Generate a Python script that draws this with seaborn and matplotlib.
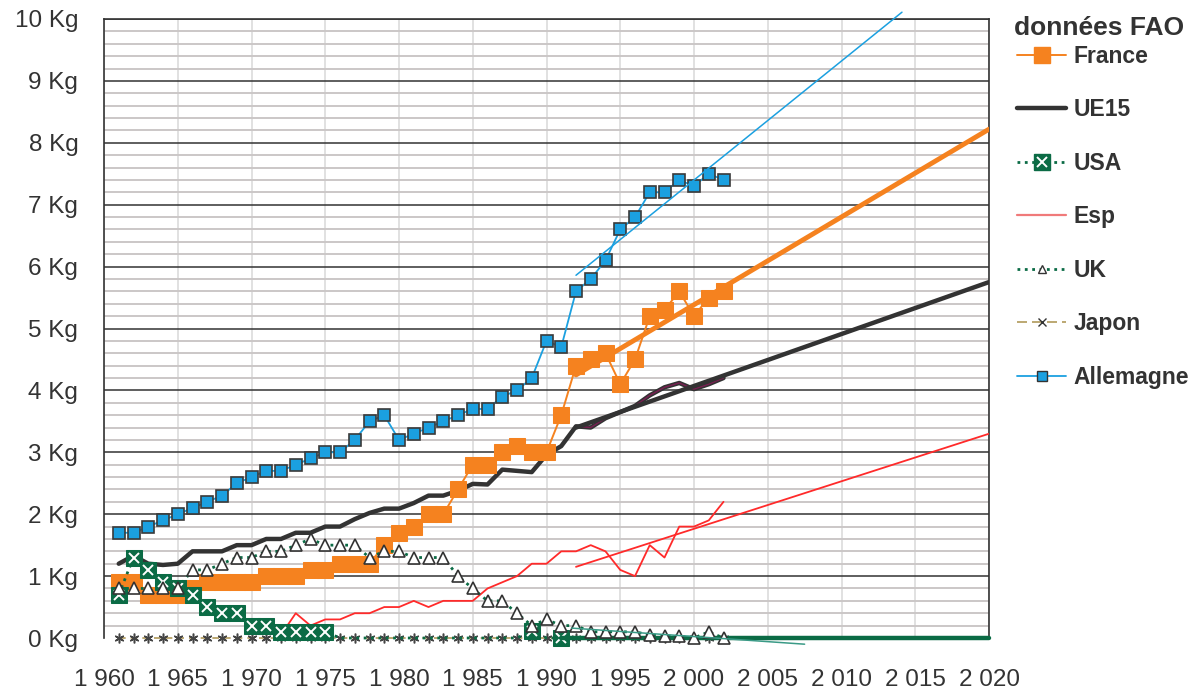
import numpy as np
import matplotlib.pyplot as plt
import seaborn as sns
from matplotlib.lines import Line2D
from matplotlib.ticker import MultipleLocator
from matplotlib.legend_handler import HandlerTuple

# données FAO, kg par habitant
years = np.arange(1961, 2003)
france = [0.9, 0.9, 0.7, 0.7, 0.7, 0.8, 0.9, 0.9, 0.9, 0.9,
          1.0, 1.0, 1.0, 1.1, 1.1, 1.2, 1.2, 1.2, 1.5, 1.7,
          1.8, 2.0, 2.0, 2.4, 2.8, 2.8, 3.0, 3.1, 3.0, 3.0,
          3.6, 4.4, 4.5, 4.6, 4.1, 4.5, 5.2, 5.3, 5.6, 5.2,
          5.5, 5.6]
ue15 = [1.2, 1.33, 1.2, 1.18, 1.2, 1.4, 1.4, 1.4, 1.5, 1.5,
        1.6, 1.6, 1.7, 1.7, 1.8, 1.8, 1.92, 2.02, 2.09, 2.09,
        2.18, 2.3, 2.3, 2.38, 2.49, 2.48, 2.72, 2.7, 2.68, 2.96,
        3.1, 3.42, 3.4, 3.55, 3.65, 3.75, 3.92, 4.05, 4.12, 4.02,
        4.1, 4.2]
usa = [0.7, 1.3, 1.1, 0.9, 0.8, 0.7, 0.5, 0.4, 0.4, 0.2,
       0.2, 0.1, 0.1, 0.1, 0.1, 0, 0, 0, 0, 0,
       0, 0, 0, 0, 0, 0, 0, 0, 0.12, 0,
       0]
uk = [0.8, 0.8, 0.8, 0.8, 0.8, 1.1, 1.1, 1.2, 1.3, 1.3,
      1.4, 1.4, 1.5, 1.6, 1.5, 1.5, 1.5, 1.3, 1.4, 1.4,
      1.3, 1.3, 1.3, 1.0, 0.8, 0.6, 0.6, 0.4, 0.2, 0.3,
      0.2, 0.2, 0.1, 0.1, 0.1, 0.1, 0.05, 0.03, 0.03, 0.0,
      0.1, 0.0]
japon = [0.0] * len(years)
allemagne = [1.7, 1.7, 1.8, 1.9, 2.0, 2.1, 2.2, 2.3, 2.5, 2.6,
             2.7, 2.7, 2.8, 2.9, 3.0, 3.0, 3.2, 3.5, 3.6, 3.2,
             3.3, 3.4, 3.5, 3.6, 3.7, 3.7, 3.9, 4.0, 4.2, 4.8,
             4.7, 5.6, 5.8, 6.1, 6.6, 6.8, 7.2, 7.2, 7.4, 7.3,
             7.5, 7.4]
esp_years = np.arange(1972, 2003)
esp = [0.05, 0.4, 0.2, 0.3, 0.3, 0.4, 0.4, 0.5, 0.5, 0.6,
       0.5, 0.6, 0.6, 0.6, 0.8, 0.9, 1.0, 1.2, 1.2, 1.4,
       1.4, 1.5, 1.4, 1.1, 1.0, 1.5, 1.3, 1.8, 1.8, 1.9,
       2.2]
usa_years = np.arange(1961, 1992)

# tendances linéaires (début, fin)
trend_france = ([1992, 2020], [4.25, 8.22])
trend_ue15 = ([1992, 2020], [3.4, 5.75])
trend_esp = ([1992, 2020], [1.15, 3.3])
trend_allemagne = ([1992, 2014.1], [5.86, 10.11])
trend_usa = ([1991, 2020], [0.0, 0.0])
trend_uk = ([1991.7, 2007.5], [0.16, -0.1])

c_france = "#f5821f"
c_ue15 = "#333333"
c_usa = "#0b6b45"
c_esp = "#ff2a2a"
c_uk_line = "#0b6b45"
c_japon = "#b09a5a"
c_all = "#1ba0e0"
txt = "#333333"

sns.set_style("white")
plt.rcParams["font.family"] = ["Liberation Sans", "DejaVu Sans"]

fig = plt.figure(figsize=(12.04, 6.9), dpi=100)
ax = fig.add_axes([104 / 1204, 52 / 690, 885 / 1204, 619 / 690])

# Japon
sns.lineplot(x=years, y=japon, ax=ax, color=c_japon, lw=1.2, dashes=False,
             linestyle=(0, (4, 3)), marker=(6, 2, 0), markersize=7,
             markeredgecolor="#444444", markeredgewidth=1.1, zorder=3,
             clip_on=False)

# Esp
sns.lineplot(x=esp_years, y=esp, ax=ax, color=c_esp, lw=1.3, zorder=3)
ax.plot(*trend_esp, color=c_esp, lw=1.3, zorder=3)

# UE15
sns.lineplot(x=years, y=ue15, ax=ax, color=c_ue15, lw=3.2, zorder=4)
ax.plot(years[31:], ue15[31:], color="#7a1f52", lw=1.0, zorder=4.1)
ax.plot(*trend_ue15, color=c_ue15, lw=3.2, zorder=4.2)

# France
sns.lineplot(x=years, y=france, ax=ax, color=c_france, lw=1.4, marker="s",
             markersize=11, markeredgecolor=c_france, zorder=5)
ax.plot(*trend_france, color=c_france, lw=3.5, zorder=5.2)

# USA
usa_marks = list(range(0, 15)) + [28, 30]
sns.lineplot(x=usa_years, y=usa, ax=ax, color=c_usa, lw=2.0, linestyle=":",
             marker="s", markersize=11, markeredgecolor=c_usa,
             markevery=usa_marks, zorder=6, clip_on=False)
ax.plot(usa_years[usa_marks], np.array(usa)[usa_marks], ls="none", marker="x",
        color="white", markersize=7, markeredgewidth=1.4, zorder=6.1,
        clip_on=False)
ax.plot(*trend_usa, color=c_usa, lw=3.2, zorder=6.2, clip_on=False)

# UK
sns.lineplot(x=years, y=uk, ax=ax, color=c_uk_line, lw=2.0, linestyle=":",
             marker="^", markersize=8, markerfacecolor="white",
             markeredgecolor="#333333", markeredgewidth=1.2, zorder=7,
             clip_on=False)
ax.plot(*trend_uk, color="#3a9a86", lw=1.1, zorder=7, clip_on=False)

# Allemagne
sns.lineplot(x=years, y=allemagne, ax=ax, color=c_all, lw=1.3, marker="s",
             markersize=8, markeredgecolor="#3a3a3a", markeredgewidth=1.2, zorder=8)
ax.plot(*trend_allemagne, color=c_all, lw=1.1, zorder=8, clip_on=False)

ax.set_xlim(1960, 2020)
ax.set_ylim(0, 10)
xt = list(range(1960, 2021, 5))
ax.set_xticks(xt)
ax.set_xticklabels([f"{y // 1000} {y % 1000:03d}" for y in xt])
ax.set_yticks(range(0, 11))
ax.set_yticklabels([f"{v} Kg" for v in range(0, 11)])
ax.yaxis.set_minor_locator(MultipleLocator(0.2))
ax.set_xlabel("")
ax.set_ylabel("")

ax.tick_params(axis="x", direction="inout", length=12, width=1.2, color="#555555",
               labelsize=17.5, labelcolor=txt, pad=16)
ax.tick_params(axis="y", which="major", direction="out", length=6.5, width=1.2,
               color="#333333", labelsize=17.5, labelcolor=txt, pad=12)
ax.tick_params(axis="y", which="minor", length=0)

ax.set_axisbelow(True)
ax.grid(which="major", axis="x", color="#dcdcdc", lw=1.2)
ax.grid(which="minor", axis="y", color="#cbc7c7", lw=1.4)
ax.grid(which="major", axis="y", color="#333333", lw=1.1)
ax.get_ygridlines()[0].set_visible(False)

for side in ["left", "top", "right"]:
    ax.spines[side].set_visible(True)
    ax.spines[side].set_color("#333333")
    ax.spines[side].set_linewidth(1.2)
ax.spines["bottom"].set_visible(False)

# légende
h_france = Line2D([], [], color=c_france, lw=1.4, marker="s", markersize=11)
h_ue15 = Line2D([], [], color=c_ue15, lw=3.2)
h_usa = (Line2D([], [], color=c_usa, lw=2.0, ls=":", marker="s", markersize=11),
         Line2D([], [], ls="none", marker="x", color="white", markersize=7,
                markeredgewidth=1.4))
h_esp = Line2D([], [], color="#f07a7a", lw=1.6)
h_uk = Line2D([], [], color=c_uk_line, lw=2.0, ls=":", marker="^", markersize=6,
              markerfacecolor="white", markeredgecolor="#333333")
h_japon = Line2D([], [], color=c_japon, lw=1.2, ls=(0, (6, 3)), marker="x",
                 markersize=6, markeredgecolor="#333333")
h_all = Line2D([], [], color=c_all, lw=1.3, marker="s", markersize=7,
               markeredgecolor="#333333")
fig.legend([h_france, h_ue15, h_usa, h_esp, h_uk, h_japon, h_all],
           ["France", "UE15", "USA", "Esp", "UK", "Japon", "Allemagne"],
           handler_map={tuple: HandlerTuple(ndivide=1, pad=0)},
           loc="upper left", bbox_to_anchor=(1017 / 1204, 1 - 45 / 690),
           frameon=False, borderpad=0, borderaxespad=0, labelspacing=1.33,
           handlelength=2.15, handletextpad=0.3,
           prop={"weight": "bold", "size": 16.5}, labelcolor=txt)
fig.text(1099 / 1204, 1 - 28 / 690, "données FAO", ha="center", va="center",
         fontsize=19, fontweight="bold", color=txt)

plt.savefig("out.png", dpi=100)
